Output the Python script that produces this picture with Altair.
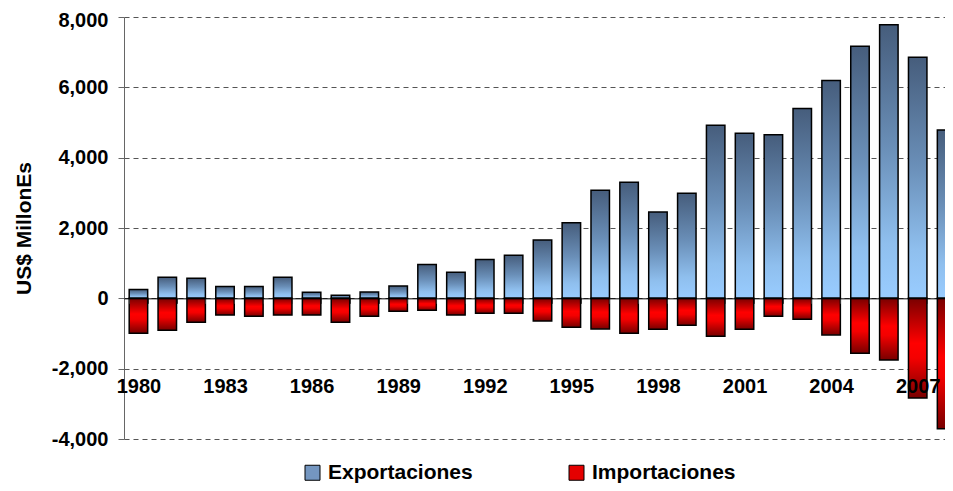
import altair as alt
import pandas as pd

# ---- data ----
anios = [str(a) for a in range(1980, 2009)]
exportaciones = [250, 600, 570, 340, 340, 600, 170, 85, 180, 350,
                 960, 745, 1105, 1225, 1660, 2150, 3070, 3300, 2455, 2985,
                 4920, 4695, 4655, 5400, 6195, 7170, 7780, 6855, 4790]
importaciones = [-990, -905, -680, -475, -510, -475, -475, -680, -510, -370,
                 -340, -475, -425, -425, -645, -820, -870, -990, -880, -765,
                 -1075, -880, -510, -595, -1040, -1560, -1755, -2835, -3710]
series = ["Exportaciones", "Importaciones"]
y_ticks = [-4000, -2000, 0, 2000, 4000, 6000, 8000]

df_exp = pd.DataFrame({"anio": anios, "valor": exportaciones, "serie": series[0]})
df_imp = pd.DataFrame({"anio": anios, "valor": importaciones, "serie": series[1]})
df_leg = pd.DataFrame({"serie": series})

FONT = "Liberation Sans"
W, H = 821, 422
zero_y = H * 8000 / 12000

grad_exp = alt.Gradient(
    gradient="linear", x1=0, x2=0, y1=0, y2=1,
    stops=[alt.GradientStop(color="#465d7c", offset=0),
           alt.GradientStop(color="#6a8fb8", offset=0.45),
           alt.GradientStop(color="#8fbfee", offset=0.8),
           alt.GradientStop(color="#99ccff", offset=1)])
grad_imp = alt.Gradient(
    gradient="linear", x1=0, x2=0, y1=0, y2=1,
    stops=[alt.GradientStop(color="#7a0000", offset=0),
           alt.GradientStop(color="#ff0000", offset=0.45),
           alt.GradientStop(color="#f40000", offset=0.6),
           alt.GradientStop(color="#780000", offset=1)])

x_enc = alt.X(
    "anio:O",
    scale=alt.Scale(range=[0, 837], paddingInner=0.36, paddingOuter=0.18),
    axis=alt.Axis(
        title=None, orient="bottom", offset=-(H - zero_y),
        domainColor="black", domainWidth=1,
        tickBand="extent", tickSize=5, tickColor="#333",
        labelExpr="(toNumber(datum.value) - 1980) % 3 == 0 ? datum.label : ''",
        labelAngle=0, labelFont=FONT, labelFontSize=20, labelFontWeight="bold",
        labelColor="black", labelPadding=73, zindex=1, grid=False),
)
y_enc = alt.Y(
    "valor:Q",
    scale=alt.Scale(domain=[-4000, 8000], nice=False),
    axis=alt.Axis(
        values=y_ticks,
        labelExpr="datum.value < 0 ? '-' + format(-datum.value, ',') : format(datum.value, ',')",
        labelFont=FONT, labelFontSize=20, labelFontWeight="bold", labelColor="black",
        labelOffset={"condition": {"test": "datum.value == 8000", "value": 3}, "value": 0},
        labelPadding=10, tickSize=6, tickColor="#666", domainColor="#666",
        grid=True, gridDash=[5, 4], gridColor="#555", gridWidth=1,
        title="US$ MillonEs", titleFont=FONT, titleFontSize=21,
        titleFontWeight="bold", titleColor="black", titlePadding=17),
)

bars_exp = alt.Chart(df_exp).mark_bar(
    color=grad_exp, stroke="black", strokeWidth=1.5
).encode(x=x_enc, y=y_enc)

bars_imp = alt.Chart(df_imp).mark_bar(
    color=grad_imp, stroke="black", strokeWidth=1.5
).encode(x="anio:O", y="valor:Q")

legend_layer = alt.Chart(df_leg).mark_square(size=0, filled=True).encode(
    color=alt.Color(
        "serie:N",
        scale=alt.Scale(domain=series, range=["#7496c0", "#e50000"]),
        legend=alt.Legend(
            title=None, orient="none", legendX=178, legendY=445,
            direction="horizontal", padding=0, columnPadding=93,
            labelOffset=5, labelFont=FONT, labelFontSize=21,
            labelFontWeight="bold", labelColor="black",
            symbolType="square", symbolSize=225, symbolOpacity=1,
            symbolStrokeColor="black", symbolStrokeWidth=1),
    )
)

chart = alt.layer(bars_exp, bars_imp, legend_layer).properties(
    width=W, height=H,
    autosize=alt.AutoSizeParams(type="none"),
    padding={"left": 116, "top": 9, "right": 0, "bottom": 44},
).configure(font=FONT).configure_view(stroke=None)

chart.save("out.html", embed_options={"renderer": "svg", "actions": False})
